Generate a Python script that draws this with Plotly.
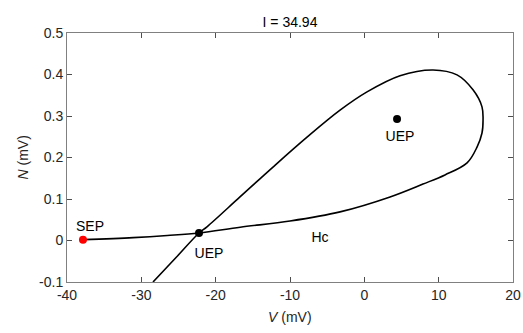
import plotly.graph_objects as go

curve_v = [-28.43, -25.33, -22.24, -21.17, -16.73, -12.29, -7.71, -3.27, 0.36, 4.80, 9.24, 12.47, 14.62,
           15.83, 15.97, 15.83, 15.16, 13.82, 10.85, 7.89, 3.46, -3.27, -10.0, -16.7, -22.24, -26.5, -31.1, -37.85]
curve_n = [-0.10, -0.041, 0.018, 0.033, 0.105, 0.177, 0.249, 0.314, 0.358, 0.397, 0.411, 0.399, 0.363,
           0.322, 0.290, 0.259, 0.225, 0.187, 0.158, 0.136, 0.105, 0.069, 0.047, 0.032, 0.018, 0.012, 0.007, 0.002]

sep = (-37.85, 0.002)
uep_pts_v = [-22.24, 4.4]
uep_pts_n = [0.018, 0.293]

labels = ["SEP", "UEP", "UEP", "Hc"]
label_v = [-36.9, -20.9, 4.8, -5.96]
label_n = [0.032, -0.033, 0.249, 0.006]

title_text = "I = 34.94"
x_title = "<i>V</i> (mV)"
y_title = "<i>N</i> (mV)"
x_ticks = [-40, -30, -20, -10, 0, 10, 20]
y_ticks = [-0.1, 0, 0.1, 0.2, 0.3, 0.4, 0.5]
y_tick_text = ["-0.1", "0", "0.1", "0.2", "0.3", "0.4", "0.5"]

font_family = "Liberation Sans, Arial, sans-serif"
fs = 14

fig = go.Figure()
fig.add_trace(go.Scatter(x=curve_v, y=curve_n, mode="lines",
                         line=dict(color="black", width=1.6, shape="spline", smoothing=1.0),
                         showlegend=False, hoverinfo="skip"))
fig.add_trace(go.Scatter(x=uep_pts_v, y=uep_pts_n, mode="markers",
                         marker=dict(color="black", size=8), showlegend=False))
fig.add_trace(go.Scatter(x=[sep[0]], y=[sep[1]], mode="markers",
                         marker=dict(color="red", size=8), showlegend=False))
fig.add_trace(go.Scatter(x=label_v, y=label_n, mode="text", text=labels,
                         textfont=dict(family=font_family, size=fs, color="black"),
                         textposition="middle center", showlegend=False, cliponaxis=False))

axis_common = dict(showgrid=False, zeroline=False, showline=True, linecolor="#808080", linewidth=1,
                   mirror="ticks", ticks="inside", ticklen=5, tickcolor="#4d4d4d", automargin=False,
                   tickfont=dict(family=font_family, size=fs, color="#262626"))

fig.update_xaxes(range=[-40, 20], tickvals=x_ticks, ticktext=[str(t) for t in x_ticks], **axis_common)
fig.update_yaxes(range=[-0.1, 0.5], tickvals=y_ticks, ticktext=y_tick_text, **axis_common)

title_font = dict(family=font_family, size=fs, color="#262626")
fig.add_annotation(text=x_title, xref="paper", yref="paper", x=0.5, y=0, yshift=-35,
                   xanchor="center", yanchor="middle", showarrow=False, font=title_font)
fig.add_annotation(text=y_title, xref="paper", yref="paper", x=0, y=0.5, xshift=-45,
                   xanchor="center", yanchor="middle", textangle=-90, showarrow=False, font=title_font)

fig.update_layout(width=523, height=333, margin=dict(l=67, r=10, t=33, b=51, autoexpand=False),
                  plot_bgcolor="white", paper_bgcolor="white",
                  title=dict(text=title_text, x=0.5, xref="paper", xanchor="center",
                             y=1 - 22 / 333, yanchor="middle", automargin=False,
                             font=dict(family=font_family, size=fs, color="black")))

fig.write_html("out.html")
